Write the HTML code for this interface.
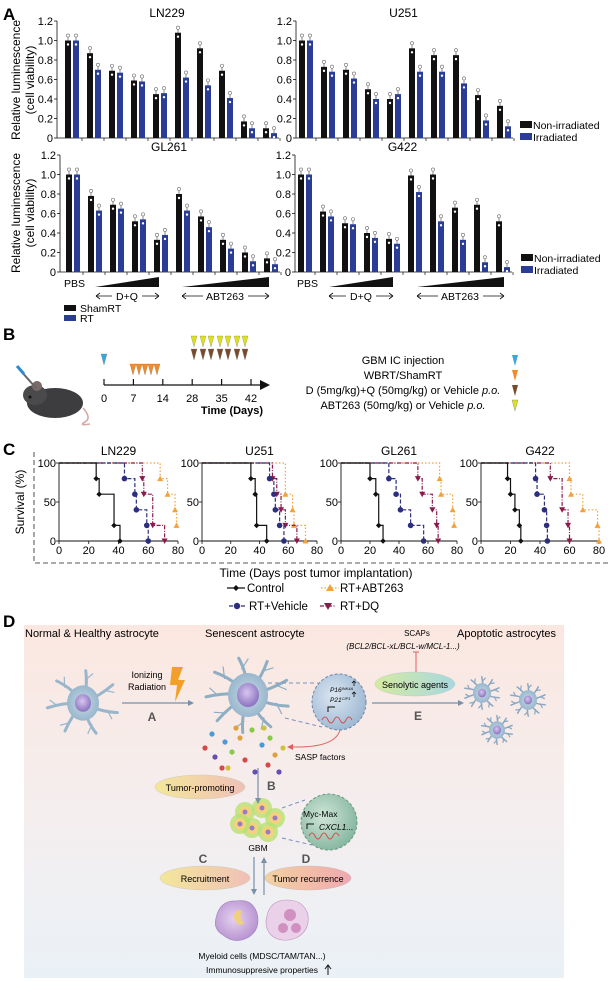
<!DOCTYPE html>
<html><head><meta charset="utf-8"><style>
html,body{margin:0;padding:0;background:#fff}
svg{display:block;font-family:"Liberation Sans",Arial,sans-serif}
</style></head><body>
<svg id="fig" width="608" height="981" viewBox="0 0 608 981" xmlns="http://www.w3.org/2000/svg">
<defs>
<linearGradient id="dbg" x1="0" y1="0" x2="0" y2="1"><stop offset="0" stop-color="#fbe7e0"/><stop offset="0.55" stop-color="#f4eeef"/><stop offset="1" stop-color="#eaf1f6"/></linearGradient>
<radialGradient id="cellg" cx="0.5" cy="0.5" r="0.6"><stop offset="0" stop-color="#c9d9e6"/><stop offset="1" stop-color="#8fb0c8"/></radialGradient>
<radialGradient id="nucg" cx="0.45" cy="0.4" r="0.6"><stop offset="0" stop-color="#d8c6ee"/><stop offset="1" stop-color="#8a72c0"/></radialGradient>
<radialGradient id="bubg" cx="0.4" cy="0.4" r="0.7"><stop offset="0" stop-color="#dbe6f2"/><stop offset="1" stop-color="#98b4cf"/></radialGradient>
<radialGradient id="bubg2" cx="0.4" cy="0.4" r="0.7"><stop offset="0" stop-color="#cfe5d8"/><stop offset="1" stop-color="#7fb29a"/></radialGradient>
<radialGradient id="myg" cx="0.45" cy="0.45" r="0.6"><stop offset="0" stop-color="#e6d2ef"/><stop offset="1" stop-color="#b590cf"/></radialGradient>
<linearGradient id="ell1" x1="0" y1="0" x2="1" y2="0"><stop offset="0" stop-color="#f3e79a"/><stop offset="1" stop-color="#f0c0b8"/></linearGradient>
<linearGradient id="ell2" x1="0" y1="0" x2="1" y2="0"><stop offset="0" stop-color="#d5eaa0"/><stop offset="1" stop-color="#a8d8e0"/></linearGradient>
<linearGradient id="ell3" x1="0" y1="0" x2="1" y2="0"><stop offset="0" stop-color="#f3d2a0"/><stop offset="1" stop-color="#f0a8b0"/></linearGradient>
</defs>

<text x="3" y="20" font-size="17" font-weight="bold">A</text>
<text x="3" y="340" font-size="17" font-weight="bold">B</text>
<text x="3" y="455" font-size="17" font-weight="bold">C</text>
<text x="3" y="627" font-size="17" font-weight="bold">D</text>

<text transform="translate(20,80) rotate(-90)" text-anchor="middle" font-size="12">Relative luminescence</text>
<text transform="translate(34,80) rotate(-90)" text-anchor="middle" font-size="12">(cell viability)</text>
<text transform="translate(20,213) rotate(-90)" text-anchor="middle" font-size="12">Relative luminescence</text>
<text transform="translate(34,213) rotate(-90)" text-anchor="middle" font-size="12">(cell viability)</text>

<g id="barcharts"></g>

<g>
<rect x="520" y="121" width="12" height="7" fill="#111"/><text x="533" y="129" font-size="10.5">Non-irradiated</text>
<rect x="520" y="133" width="12" height="7" fill="#2a3d96"/><text x="533" y="141" font-size="10.5">Irradiated</text>
</g>
<g>
<rect x="521" y="254" width="12" height="7" fill="#111"/><text x="534" y="262" font-size="10.5">Non-irradiated</text>
<rect x="521" y="266" width="12" height="7" fill="#2a3d96"/><text x="534" y="274" font-size="10.5">Irradiated</text>
</g>
<g font-size="10.5">
<text x="64" y="287">PBS</text>
<polygon points="95,287 159,287 159,277" fill="#111"/>
<polygon points="182,287 269,287 269,277" fill="#111"/>
<text x="127" y="300" text-anchor="middle">D+Q</text>
<path d="M96,296 H112 M142,296 H159 M96,296 l4,-3 M96,296 l4,3 M159,296 l-4,-3 M159,296 l-4,3" stroke="#111" stroke-width="0.8" fill="none"/>
<text x="225" y="300" text-anchor="middle">ABT263</text>
<path d="M182,296 H203 M248,296 H269 M182,296 l4,-3 M182,296 l4,3 M269,296 l-4,-3 M269,296 l-4,3" stroke="#111" stroke-width="0.8" fill="none"/>
<text x="297" y="287">PBS</text>
<polygon points="329,287 393,287 393,277" fill="#111"/>
<polygon points="417,287 504,287 504,277" fill="#111"/>
<text x="361" y="300" text-anchor="middle">D+Q</text>
<path d="M329,296 H346 M376,296 H393 M329,296 l4,-3 M329,296 l4,3 M393,296 l-4,-3 M393,296 l-4,3" stroke="#111" stroke-width="0.8" fill="none"/>
<text x="460" y="300" text-anchor="middle">ABT263</text>
<path d="M417,296 H438 M483,296 H504 M417,296 l4,-3 M417,296 l4,3 M504,296 l-4,-3 M504,296 l-4,3" stroke="#111" stroke-width="0.8" fill="none"/>
<rect x="64" y="305" width="12" height="6" fill="#111"/><text x="80" y="312">ShamRT</text>
<rect x="64" y="315" width="12" height="6" fill="#2a3d96"/><text x="80" y="322">RT</text>
</g>

<g>
<g>
<ellipse cx="55" cy="403" rx="28" ry="15" fill="#3d3d3f"/>
<ellipse cx="35" cy="395" rx="12" ry="10" fill="#4a4a4c"/>
<circle cx="37" cy="386" r="5" fill="#7a6a6a"/>
<circle cx="30" cy="397" r="1.5" fill="#111"/>
<path d="M83,408 Q92,418 85,422 Q78,426 90,424" stroke="#d8a8a8" stroke-width="1.6" fill="none"/>
<path d="M20,370 L36,388" stroke="#666" stroke-width="2"/>
<path d="M17,366 L24,374" stroke="#2a8bd0" stroke-width="3"/>
</g>
<line x1="104" y1="385" x2="262" y2="385" stroke="#111" stroke-width="1.3"/>
<polygon points="260,380 270,385 260,390" fill="#111"/>
<g id="bticks"></g>
<text x="232" y="414" text-anchor="middle" font-size="11" font-weight="bold">Time (Days)</text>
<g id="btris"></g>
<g font-size="11" text-anchor="middle">
<text x="403" y="364">GBM IC injection</text>
<text x="403" y="379">WBRT/ShamRT</text>
<text x="403" y="394">D (5mg/kg)+Q (50mg/kg) or Vehicle <tspan font-style="italic">p.o.</tspan></text>
<text x="403" y="409">ABT263 (50mg/kg) or Vehicle <tspan font-style="italic">p.o.</tspan></text>
</g>
<polygon points="512,355 518,355 515,366" fill="#3aa6dc"/>
<polygon points="512,370 518,370 515,381" fill="#f28c28"/>
<polygon points="512,385 518,385 515,396" fill="#7a4a2a"/>
<polygon points="512,400 518,400 515,411" fill="#dde01c" stroke="#888" stroke-width="0.4"/>
</g>

<g id="kmcharts"></g>
<text transform="translate(24,502) rotate(-90)" text-anchor="middle" font-size="12">Survival (%)</text>
<path d="M34,452 V563 H608" stroke="#777" stroke-width="1.3" stroke-dasharray="5,3" fill="none"/>
<text x="316" y="577" text-anchor="middle" font-size="12">Time (Days post tumor implantation)</text>
<g font-size="11.5">
<line x1="227" y1="588" x2="245" y2="588" stroke="#111" stroke-width="1.2"/><polygon points="236,585 239,588 236,591 233,588" fill="#111"/><text x="247" y="592">Control</text>
<line x1="321" y1="588" x2="339" y2="588" stroke="#f4a13a" stroke-width="1.2" stroke-dasharray="1.5,2"/><polygon points="326,591 330,584 334,591" fill="#f4a13a"/><text x="340" y="592">RT+ABT263</text>
<line x1="229" y1="606" x2="245" y2="606" stroke="#2b2f7e" stroke-width="1.2" stroke-dasharray="4,2"/><circle cx="237" cy="606" r="3.2" fill="#2b2f7e"/><text x="249" y="610">RT+Vehicle</text>
<line x1="320" y1="606" x2="336" y2="606" stroke="#8b1a4a" stroke-width="1.2" stroke-dasharray="4,1.5,1,1.5"/><polygon points="324,603 332,603 328,610" fill="#8b1a4a"/><text x="340" y="610">RT+DQ</text>
</g>

<g>
<rect x="24" y="625" width="540" height="353" fill="url(#dbg)"/>
<g font-size="11">
<text x="25" y="637">Normal &amp; Healthy astrocyte</text>
<text x="205" y="637">Senescent astrocyte</text>
<text x="457" y="637">Apoptotic astrocytes</text>
<text x="417" y="636" text-anchor="middle" font-size="8">SCAPs</text>
<text x="403" y="649" text-anchor="middle" font-size="8" font-style="italic">(BCL2/BCL-xL/BCL-w/MCL-1...)</text>
</g>
<g id="cells"></g>
<text x="147" y="678" text-anchor="middle" font-size="9">Ionizing</text>
<text x="147" y="690" text-anchor="middle" font-size="9">Radiation</text>
<polygon points="172,667 183,667 178,680 185,680 175,702 177,685 170,685" fill="#f3a028"/>
<line x1="122" y1="703" x2="190" y2="703" stroke="#7890a8" stroke-width="1.2"/><polygon points="188,700 194,703 188,706" fill="#7890a8"/>
<text x="152" y="721" text-anchor="middle" font-size="12" font-weight="bold" fill="#555">A</text>
<line x1="268" y1="683" x2="318" y2="683" stroke="#7a8ec0" stroke-dasharray="4,3"/>
<line x1="285" y1="718" x2="322" y2="727" stroke="#7a8ec0" stroke-dasharray="4,3"/>
<ellipse cx="339" cy="702" rx="27" ry="28" fill="url(#bubg)" stroke="#6a86b0" stroke-dasharray="3,2"/>
<text x="330" y="692" font-size="6.5" font-style="italic">P16<tspan font-size="4" dy="-2">INK4A</tspan></text>
<text x="330" y="702" font-size="6.5" font-style="italic">P21<tspan font-size="4" dy="-2">CIP1</tspan></text>
<path d="M354,686 v-5 M352,683 l2,-2 l2,2 M354,697 v-5 M352,694 l2,-2 l2,2" stroke="#111" stroke-width="0.8" fill="none"/>
<path d="M328,712 v-5 h7" stroke="#111" stroke-width="1" fill="none"/>
<path d="M322,720 q3,-6 6,0 t6,0 t6,0 t6,0 t6,0" stroke="#d05050" stroke-width="1" fill="none"/>
<path d="M340,730 Q335,748 292,747" stroke="#e06060" stroke-width="1" fill="none"/><polygon points="293,744 287,747 293,750" fill="#e06060"/>
<text x="295" y="760" font-size="8.5">SASP factors</text>
<line x1="416" y1="652" x2="416" y2="672" stroke="#e06060" stroke-width="1"/><line x1="413" y1="652" x2="419" y2="652" stroke="#e06060"/>
<ellipse cx="415" cy="684" rx="40" ry="12" fill="url(#ell2)" stroke="#bcc" stroke-width="0.5"/>
<text x="415" y="688" text-anchor="middle" font-size="9">Senolytic agents</text>
<line x1="372" y1="703" x2="460" y2="703" stroke="#7890a8" stroke-width="1.2"/><polygon points="458,700 464,703 458,706" fill="#7890a8"/>
<text x="418" y="720" text-anchor="middle" font-size="12" font-weight="bold" fill="#555">E</text>
<line x1="258" y1="768" x2="258" y2="800" stroke="#7890a8" stroke-width="1.2"/><polygon points="255,798 258,804 261,798" fill="#7890a8"/>
<text x="267" y="790" font-size="12" font-weight="bold" fill="#555">B</text>
<ellipse cx="200" cy="787" rx="45" ry="12" fill="url(#ell1)" stroke="#ccb" stroke-width="0.5"/>
<text x="200" y="791" text-anchor="middle" font-size="9">Tumor-promoting</text>
<line x1="282" y1="808" x2="305" y2="800" stroke="#7a8ec0" stroke-dasharray="4,3"/>
<line x1="282" y1="838" x2="312" y2="845" stroke="#7a8ec0" stroke-dasharray="4,3"/>
<ellipse cx="329" cy="822" rx="28" ry="28" fill="url(#bubg2)" stroke="#6a9a80" stroke-dasharray="3,2"/>
<text x="303" y="817" font-size="8.5">Myc-Max</text>
<path d="M307,829 v-5 h7" stroke="#111" stroke-width="1" fill="none"/>
<text x="319" y="830" font-size="8.5" font-style="italic">CXCL1...</text>
<path d="M309,836 q3,-6 6,0 t6,0 t6,0 t6,0 t6,0" stroke="#d05050" stroke-width="1" fill="none"/>
<text x="258" y="851" text-anchor="middle" font-size="8.5">GBM</text>
<text x="203" y="863" text-anchor="middle" font-size="12" font-weight="bold" fill="#555">C</text>
<text x="306" y="863" text-anchor="middle" font-size="12" font-weight="bold" fill="#555">D</text>
<ellipse cx="205" cy="878" rx="45" ry="12" fill="url(#ell1)" stroke="#ccb" stroke-width="0.5"/>
<text x="205" y="882" text-anchor="middle" font-size="9">Recruitment</text>
<ellipse cx="308" cy="878" rx="43" ry="12" fill="url(#ell3)" stroke="#cbb" stroke-width="0.5"/>
<text x="308" y="882" text-anchor="middle" font-size="9">Tumor recurrence</text>
<line x1="254" y1="857" x2="254" y2="891" stroke="#7890a8" stroke-width="1.2"/><polygon points="251,889 254,895 257,889" fill="#7890a8"/>
<line x1="264" y1="895" x2="264" y2="861" stroke="#7890a8" stroke-width="1.2"/><polygon points="261,863 264,857 267,863" fill="#7890a8"/>
<path d="M216,918 q4,-18 20,-17 q16,-3 21,12 q4,16 -8,24 q-14,8 -26,-2 q-10,-6 -7,-17z" fill="url(#myg)" stroke="#a080c0" stroke-width="0.6"/>
<path d="M238,910 q-8,6 0,14 q4,2 6,-1 q-6,-5 -2,-12z" fill="#f1d07a"/>
<path d="M267,916 q3,-16 20,-16 q17,0 21,15 q2,16 -12,23 q-16,6 -26,-4 q-6,-8 -3,-18z" fill="#ead0e8" stroke="#c090c0" stroke-width="0.6"/>
<circle cx="290" cy="915" r="6" fill="#d090c0"/><circle cx="283" cy="928" r="5" fill="#d090c0"/><circle cx="296" cy="928" r="5" fill="#d090c0"/>
<text x="262" y="959" text-anchor="middle" font-size="8.5">Myeloid cells (MDSC/TAM/TAN...)</text>
<text x="262" y="973" text-anchor="middle" font-size="8.5">Immunosuppresive properties</text>
<path d="M328,975 v-9 M325,969 l3,-4 l3,4" stroke="#111" stroke-width="1" fill="none"/>
</g>
</svg>
<script>
const NS='http://www.w3.org/2000/svg';
function mk(tag,attrs,parent){const e=document.createElementNS(NS,tag);for(const k in attrs)e.setAttribute(k,attrs[k]);if(parent)parent.appendChild(e);return e;}

const aTicks=['0','0.2','0.4','0.6','0.8','1.0','1.2'];
const ln229Non=[1.00,0.87,0.69,0.59,0.45,1.08,0.92,0.69,0.17,0.10];
const ln229Irr=[1.00,0.70,0.67,0.58,0.46,0.62,0.54,0.41,0.10,0.05];
const u251Non=[1.00,0.73,0.70,0.50,0.40,0.92,0.85,0.85,0.44,0.33];
const u251Irr=[1.00,0.68,0.61,0.40,0.45,0.68,0.68,0.56,0.18,0.12];
const gl261Non=[1.00,0.78,0.69,0.52,0.33,0.80,0.57,0.33,0.20,0.14];
const gl261Irr=[1.00,0.63,0.65,0.54,0.38,0.63,0.46,0.24,0.11,0.08];
const g422Non=[1.00,0.62,0.50,0.40,0.34,0.99,1.00,0.66,0.69,0.52];
const g422Irr=[1.00,0.57,0.49,0.35,0.29,0.82,0.52,0.33,0.10,0.05];

const barG=document.getElementById('barcharts');
function barChart(name,title,non,irr,ax,first,y0){
  const g=mk('g',{},barG);
  
  
  const yS=v=>y0-v*(117/1.2);
  const xG=i=>first+i*22;
  const t=mk('text',{x:(ax+xG(9)+14)/2,y:y0-121,'text-anchor':'middle','font-size':12},g);t.textContent=title;
  
  
  aTicks.forEach((lab,k)=>{const v=parseFloat(lab);
    const tl=mk('text',{x:ax-4,y:yS(v)+4,'text-anchor':'end','font-size':11},g);tl.textContent=lab;
    
    
    mk('line',{x1:ax-3,x2:ax,y1:yS(v),y2:yS(v),stroke:'#111','stroke-width':0.8},g);});
  mk('line',{x1:ax,x2:ax,y1:yS(1.2),y2:y0,stroke:'#111','stroke-width':0.8},g);
  mk('line',{x1:ax,x2:xG(9)+16,y1:y0,y2:y0,stroke:'#111','stroke-width':0.8},g);
  non.forEach((v,i)=>{
    [[v,'#111',0],[irr[i],'#2a3d96',8]].forEach(([val,col,off],s)=>{
      const x=xG(i)+off,y=yS(val);
      const r=mk('rect',{x:x,y:y,width:6,height:y0-y,fill:col},g);
      
      
      mk('line',{x1:x+3,x2:x+3,y1:y,y2:y-4,stroke:'#555','stroke-width':0.7},g);
      mk('circle',{cx:x+3,cy:y-5,r:1.6,fill:'#fff',stroke:'#666','stroke-width':0.6},g);
      mk('circle',{cx:x+3,cy:y+4,r:1.2,fill:'#fff'},g);
    });
    mk('line',{x1:xG(i)+17,x2:xG(i)+17,y1:y0,y2:y0+3,stroke:'#111','stroke-width':0.7},g);
  });
}
barChart('chart-ln229','LN229',ln229Non,ln229Irr,57,65,138);
barChart('chart-u251','U251',u251Non,u251Irr,296,299,138);
barChart('chart-gl261','GL261',gl261Non,gl261Irr,60,66,272);
barChart('chart-g422','G422',g422Non,g422Irr,295,298,272);

const bDays=['0','7','14','28','35','42'];
const bt=document.getElementById('bticks');
bDays.forEach((d,i)=>{const x=104+i*29.4;
  mk('line',{x1:x,x2:x,y1:379,y2:385,stroke:'#111','stroke-width':1.2},bt);
  const t=mk('text',{x:x,y:402,'text-anchor':'middle','font-size':11},bt);t.textContent=d;
  
  });
const btr=document.getElementById('btris');
function tri(x,y,col){const p=mk('polygon',{points:`${x-3},${y} ${x+3},${y} ${x},${y+11}`,fill:col,stroke:'#777','stroke-width':0.3},btr);
  
  }
tri(104,354,'#3aa6dc');
[133,139,145,151,157].forEach(x=>tri(x,364,'#f28c28'));
[194,203,211,220,228,237,245].forEach(x=>{tri(x,336,'#dde01c');tri(x,349,'#7a4a2a');});

const kmTicksX=['0','20','40','60','80'];
const kmTicksY=['0','50','100'];
const ln229CtrlT=[25,27,37,41], ln229CtrlS=[80,60,20,0];
const ln229VehT=[44,51,52,59,60], ln229VehS=[80,60,40,20,0];
const ln229DqT=[56,57,63,71], ln229DqS=[80,60,20,0];
const ln229AbtT=[68,73,78,79], ln229AbtS=[80,60,40,20];
const u251CtrlT=[34,37,38,45], u251CtrlS=[80,60,20,0];
const u251VehT=[47,50,51,54,57], u251VehS=[80,60,40,20,0];
const u251DqT=[49,52,55,58,66], u251DqS=[80,60,40,20,0];
const u251AbtT=[58,63,64,72], u251AbtS=[60,40,20,0];
const gl261CtrlT=[20,24,26,29], gl261CtrlS=[80,60,20,0];
const gl261VehT=[33,38,41,48,57], gl261VehS=[80,60,40,20,0];
const gl261DqT=[53,56,63,66,67], gl261DqS=[80,60,40,20,0];
const gl261AbtT=[68,69,77,78], gl261AbtS=[80,60,40,20];
const g422CtrlT=[18,20,23,26,27], g422CtrlS=[80,60,40,20,0];
const g422VehT=[37,38,43,44.5,45], g422VehS=[80,60,40,20,0];
const g422DqT=[47,55,59,60], g422DqS=[80,40,20,0];
const g422AbtT=[60,61,69,79,80], g422AbtS=[80,60,40,20,0];

const kmG=document.getElementById('kmcharts');
const styles={ctrl:{c:'#111',d:'',m:'diamond'},veh:{c:'#2b2f7e',d:'4,2',m:'circle'},dq:{c:'#8b1a4a',d:'4,1.5,1,1.5',m:'down'},abt:{c:'#f4a13a',d:'1.5,2',m:'up'}};
function km(name,title,x0,x80,series){
  const g=mk('g',{},kmG);
  
  
  const X=t=>x0+t*(x80-x0)/80, Y=s=>541-s*0.78;
  const tt=mk('text',{x:(x0+x80)/2,y:455,'text-anchor':'middle','font-size':12},g);tt.textContent=title;
  
  
  mk('line',{x1:x0,x2:x0,y1:Y(100),y2:Y(0),stroke:'#111','stroke-width':0.9},g);
  mk('line',{x1:x0,x2:X(80),y1:Y(0),y2:Y(0),stroke:'#111','stroke-width':0.9},g);
  kmTicksX.forEach(l=>{const v=+l;mk('line',{x1:X(v),x2:X(v),y1:Y(0),y2:Y(0)+3,stroke:'#111','stroke-width':0.8},g);
    const t=mk('text',{x:X(v),y:554,'text-anchor':'middle','font-size':11},g);t.textContent=l;
    
    });
  kmTicksY.forEach(l=>{const v=+l;mk('line',{x1:x0-3,x2:x0,y1:Y(v),y2:Y(v),stroke:'#111','stroke-width':0.8},g);
    const t=mk('text',{x:x0-3,y:Y(v)+4,'text-anchor':'end','font-size':11},g);t.textContent=l;
    
    });
  ['abt','dq','veh','ctrl'].forEach(k=>{
    const [T,S]=series[k],st=styles[k];
    let d=`M${X(0)},${Y(100)}`,prev=100;
    T.forEach((t,i)=>{d+=` H${X(t)} V${Y(S[i])}`;prev=S[i];});
    if(prev>0)d+=` H${X(80)}`;
    const p=mk('path',{d:d,fill:'none',stroke:st.c,'stroke-width':1.2,'stroke-dasharray':st.d},g);
    
    
    T.forEach((t,i)=>{const x=X(t),y=Y(S[i]);let m;
      if(st.m==='circle')m=mk('circle',{cx:x,cy:y,r:2.8,fill:st.c},g);
      else if(st.m==='diamond')m=mk('polygon',{points:`${x},${y-2.8} ${x+2.8},${y} ${x},${y+2.8} ${x-2.8},${y}`,fill:st.c},g);
      else if(st.m==='down')m=mk('polygon',{points:`${x-3},${y-2.5} ${x+3},${y-2.5} ${x},${y+3}`,fill:st.c},g);
      else m=mk('polygon',{points:`${x-3},${y+2.5} ${x+3},${y+2.5} ${x},${y-3}`,fill:st.c},g);
      
      });
  });
}
km('km-ln229','LN229',59,178,{ctrl:[ln229CtrlT,ln229CtrlS],veh:[ln229VehT,ln229VehS],dq:[ln229DqT,ln229DqS],abt:[ln229AbtT,ln229AbtS]});
km('km-u251','U251',202,317,{ctrl:[u251CtrlT,u251CtrlS],veh:[u251VehT,u251VehS],dq:[u251DqT,u251DqS],abt:[u251AbtT,u251AbtS]});
km('km-gl261','GL261',341,457,{ctrl:[gl261CtrlT,gl261CtrlS],veh:[gl261VehT,gl261VehS],dq:[gl261DqT,gl261DqS],abt:[gl261AbtT,gl261AbtS]});
km('km-g422','G422',481,599,{ctrl:[g422CtrlT,g422CtrlS],veh:[g422VehT,g422VehS],dq:[g422DqT,g422DqS],abt:[g422AbtT,g422AbtS]});

const cg=document.getElementById('cells');
function astro(name,cx,cy,r,n,len,col,nuc,spiky){
  const g=mk('g',{},cg);
  
  
  for(let i=0;i<n;i++){const a=i*2*Math.PI/n+0.3;const ex=cx+Math.cos(a)*len,ey=cy+Math.sin(a)*len*0.9;
    mk('path',{d:`M${cx},${cy} Q${cx+Math.cos(a+0.2)*len*0.5},${cy+Math.sin(a+0.2)*len*0.5} ${ex},${ey}`,stroke:col,'stroke-width':spiky?1.5:3,fill:'none','stroke-linecap':'round'},g);
    const bx=cx+Math.cos(a)*len*0.7,by=cy+Math.sin(a)*len*0.63;
    mk('path',{d:`M${bx},${by} L${bx+Math.cos(a+0.8)*len*0.3},${by+Math.sin(a+0.8)*len*0.3}`,stroke:col,'stroke-width':1.2,fill:'none'},g);}
  mk('ellipse',{cx:cx,cy:cy,rx:r,ry:r*1.1,fill:'url(#cellg)'},g);
  mk('ellipse',{cx:cx,cy:cy,rx:nuc,ry:nuc*1.1,fill:'url(#nucg)'},g);
}
astro('normal-astrocyte',83,703,16,7,36,'#9ab6cc',8,false);
astro('senescent-astrocyte',248,695,20,9,42,'#8eaec4',11,false);
astro('apoptotic-astrocyte-1',482,693,9,10,18,'#8aa8c4',4,true);
astro('apoptotic-astrocyte-2',528,700,9,10,18,'#8aa8c4',4,true);
astro('apoptotic-astrocyte-3',497,730,8,10,16,'#8aa8c4',4,true);
const dotCols=['#d24a4a','#6a4bb0','#4a9ad8','#8ac84a','#e0a040','#d0c040'];
const dotPos=[[205,748],[215,757],[225,742],[232,752],[240,738],[228,768],[245,760],[255,772],[262,745],[270,738],[275,755],[283,748],[268,765],[279,772],[212,734],[252,730],[236,728],[264,728],[222,768]];
dotPos.forEach((p,i)=>{const c=mk('circle',{cx:p[0],cy:p[1],r:2.6,fill:dotCols[i%6]},cg);
  
  });
const gbm=mk('g',{},cg);


[[245,812],[262,808],[275,818],[252,828],[268,832],[240,824]].forEach(p=>{
  mk('circle',{cx:p[0],cy:p[1],r:10,fill:'#b8e070',opacity:0.8},gbm);
  mk('circle',{cx:p[0],cy:p[1],r:6,fill:'#f3d27a'},gbm);
  mk('circle',{cx:p[0],cy:p[1],r:2.5,fill:'#9a7ac8'},gbm);});
</script>
</body></html>
